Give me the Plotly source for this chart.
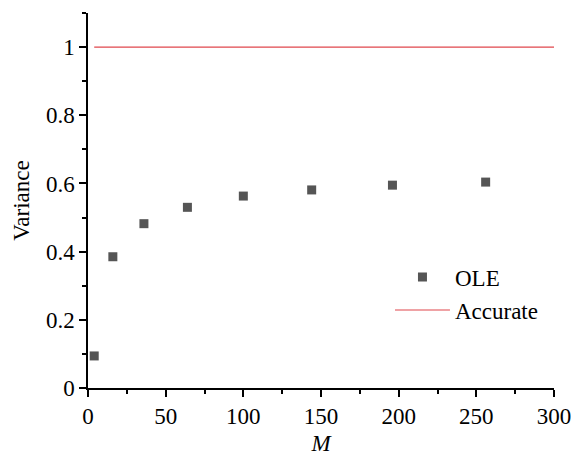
import plotly.graph_objects as go

# Variance estimates of the OLE method versus M
m_values = [4, 16, 36, 64, 100, 144, 196, 256]
ole_variance = [0.094, 0.385, 0.482, 0.530, 0.563, 0.581, 0.595, 0.604]

# Reference (accurate) variance
accurate_m = [4, 300]
accurate_variance = [1.0, 1.0]

FONT = "Liberation Serif"
tick_font = dict(family=FONT, size=23, color="black")
title_font = dict(family=FONT, size=23, color="black")

fig = go.Figure()
fig.add_trace(go.Scatter(
    x=m_values, y=ole_variance, mode="markers", name="OLE",
    marker=dict(symbol="square", size=9, color="#555555", line=dict(width=0)),
))
fig.add_trace(go.Scatter(
    x=accurate_m, y=accurate_variance, mode="lines", name="Accurate",
    line=dict(color="#e0474c", width=1.2),
))

fig.update_layout(
    width=574, height=460,
    margin=dict(l=88, r=20, t=13, b=72),
    plot_bgcolor="white", paper_bgcolor="white",
    font=dict(family=FONT, size=23, color="black"),
    xaxis=dict(
        range=[0, 300], tick0=0, dtick=50, automargin=False,
        showline=True, linecolor="black", linewidth=1.5,
        ticks="outside", ticklen=7, tickwidth=1.5, tickcolor="black",
        showgrid=False, zeroline=False,
        tickfont=tick_font,
        minor=dict(dtick=25, ticklen=4, tickwidth=1.5, tickcolor="black", ticks="outside"),
        title=dict(text="<i>M</i>", font=title_font, standoff=7),
    ),
    yaxis=dict(
        range=[0, 1.1], tick0=0, dtick=0.2, tickformat="~g", automargin=False,
        showline=True, linecolor="black", linewidth=1.5,
        ticks="outside", ticklen=7, tickwidth=1.5, tickcolor="black",
        showgrid=False, zeroline=False,
        tickfont=tick_font,
        minor=dict(dtick=0.1, ticklen=4, tickwidth=1.5, tickcolor="black", ticks="outside"),
        title=dict(text="Variance", font=title_font, standoff=10),
    ),
    legend=dict(
        x=0.648, y=0.353, xanchor="left", yanchor="top",
        bgcolor="rgba(0,0,0,0)", borderwidth=0,
        font=dict(family=FONT, size=23, color="black"),
        itemwidth=55, tracegroupgap=0,
    ),
)

fig.write_html("out.html")
